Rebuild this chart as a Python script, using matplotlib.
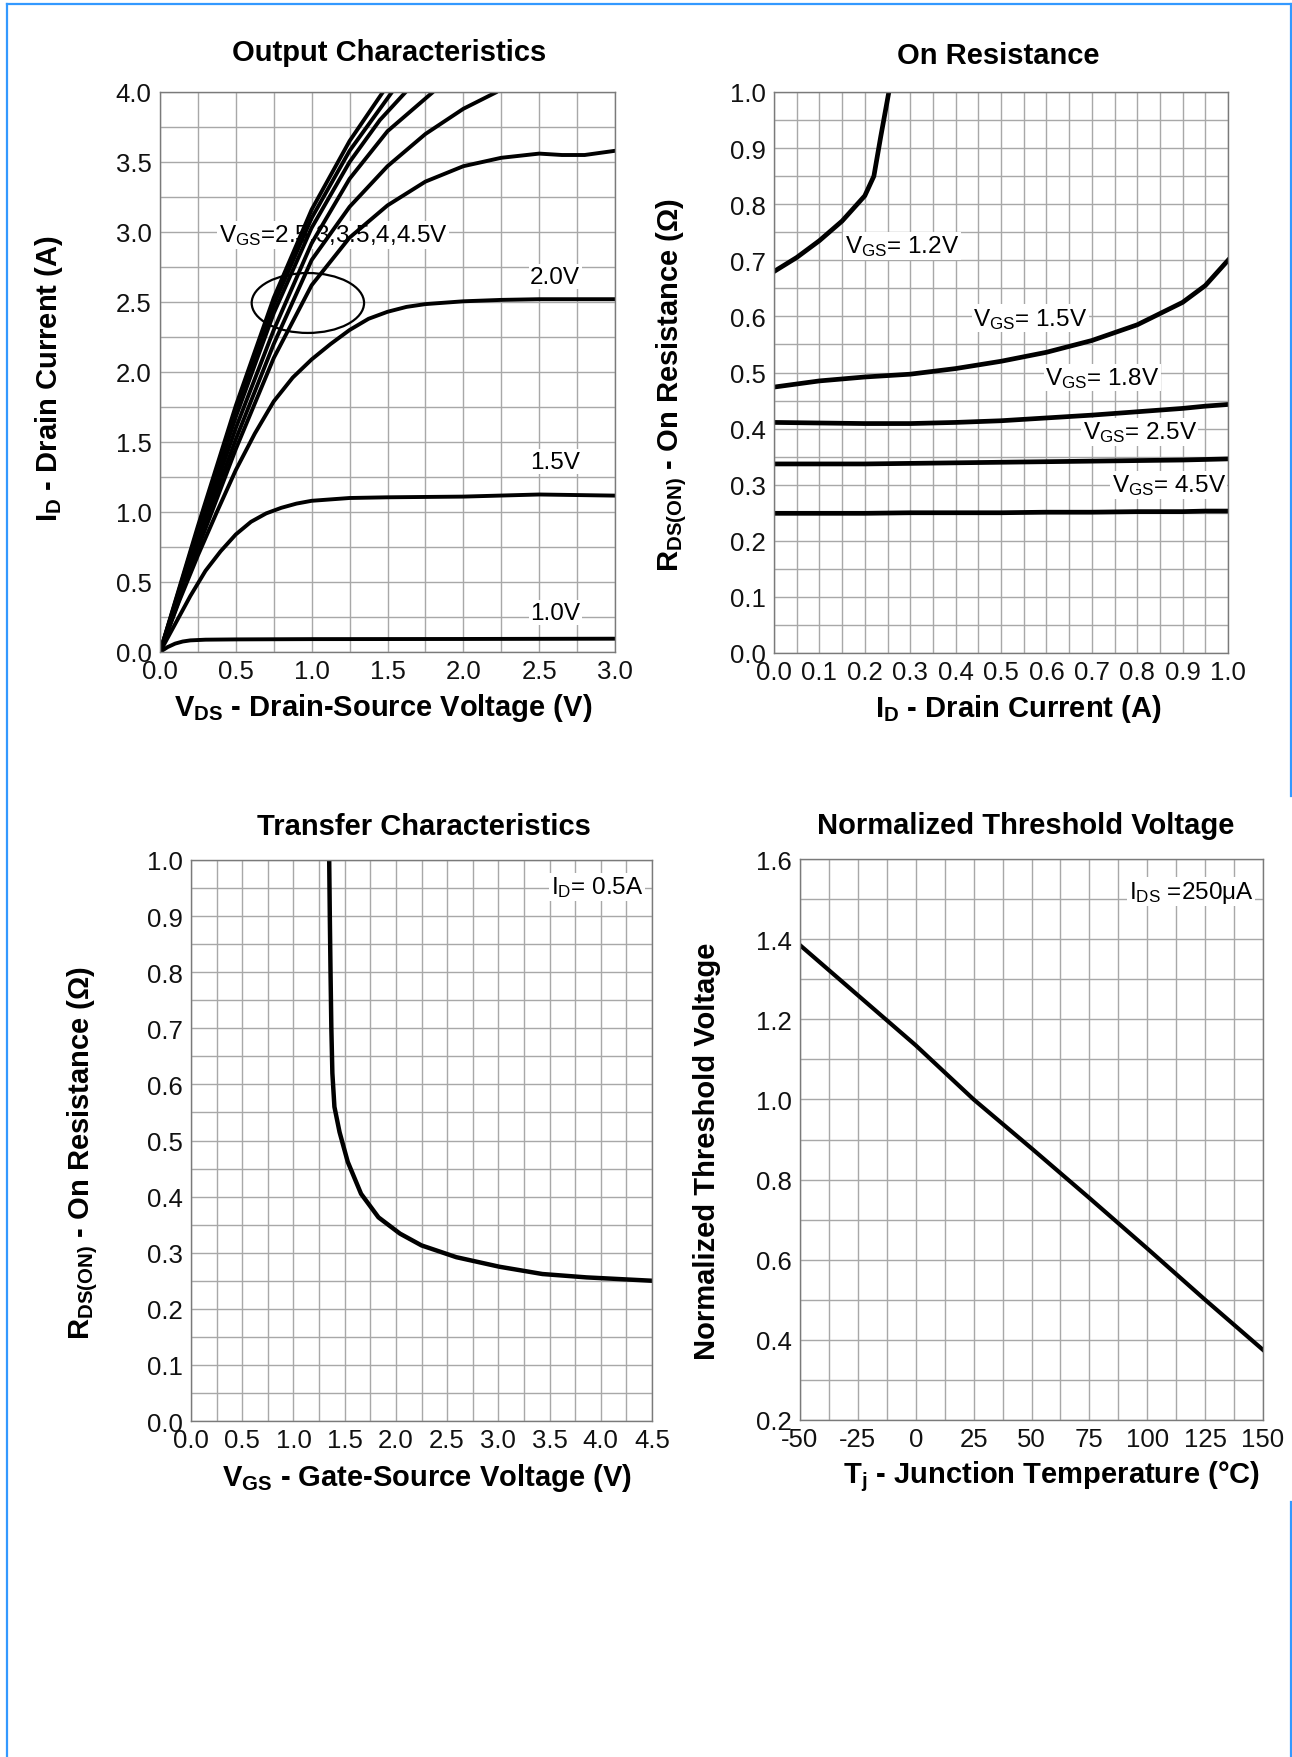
import numpy as np
import matplotlib.pyplot as plt
from matplotlib.patches import Ellipse
from matplotlib.lines import Line2D

plt.rcParams['font.family'] = ['Liberation Sans', 'DejaVu Sans']
plt.rcParams['mathtext.fontset'] = 'custom'
plt.rcParams['mathtext.rm'] = 'Liberation Sans'
plt.rcParams['mathtext.bf'] = 'Liberation Sans:bold'
plt.rcParams['mathtext.it'] = 'Liberation Sans:italic'

W, H = 1292, 1758

# --- Output characteristics (VDS in V, ID in A) ---
vds_10 = [0, 0.05, 0.1, 0.15, 0.2, 0.3, 0.5, 1.0, 2.0, 3.0]
id_10 = [0, 0.035, 0.06, 0.075, 0.083, 0.088, 0.09, 0.092, 0.093, 0.095]
vds_15 = [0, 0.1, 0.2, 0.3, 0.4, 0.5, 0.6, 0.7, 0.8, 0.9, 1.0, 1.25, 1.5, 2.0, 2.5, 3.0]
id_15 = [0, 0.2, 0.4, 0.58, 0.72, 0.84, 0.93, 0.99, 1.03, 1.06, 1.08, 1.1, 1.105, 1.11, 1.125, 1.117]
vds_20 = [0, 0.125, 0.25, 0.375, 0.5, 0.625, 0.75, 0.875, 1.0, 1.125, 1.25, 1.375, 1.5, 1.625, 1.75, 2.0, 2.25, 2.5, 3.0]
id_20 = [0, 0.36, 0.69, 1.0, 1.3, 1.56, 1.79, 1.96, 2.09, 2.2, 2.3, 2.38, 2.43, 2.465, 2.485, 2.505, 2.515, 2.52, 2.52]
vds_f = [0, 0.25, 0.5, 0.75, 1.0, 1.25, 1.5, 1.75, 2.0, 2.25, 2.5, 2.65, 2.8, 3.0]
id_f = [0, 0.74, 1.45, 2.1, 2.62, 2.96, 3.19, 3.36, 3.47, 3.53, 3.56, 3.55, 3.55, 3.58]
vds_e = [0, 0.25, 0.5, 0.75, 1.0, 1.25, 1.5, 1.75, 2.0, 2.22]
id_e = [0, 0.78, 1.52, 2.2, 2.8, 3.18, 3.47, 3.7, 3.88, 4.0]
vds_d = [0, 0.25, 0.5, 0.75, 1.0, 1.25, 1.5, 1.8]
id_d = [0, 0.82, 1.6, 2.3, 2.92, 3.38, 3.72, 4.0]
vds_c = [0, 0.25, 0.5, 0.75, 1.0, 1.25, 1.45, 1.62]
id_c = [0, 0.86, 1.68, 2.42, 3.03, 3.5, 3.8, 4.0]
vds_b = [0, 0.25, 0.5, 0.75, 1.0, 1.25, 1.53]
id_b = [0, 0.88, 1.72, 2.48, 3.1, 3.58, 4.0]
vds_a = [0, 0.25, 0.5, 0.75, 1.0, 1.25, 1.47]
id_a = [0, 0.9, 1.76, 2.53, 3.16, 3.65, 4.0]

# --- On resistance (ID in A, RDS in ohm) ---
id_r12 = [0, 0.05, 0.1, 0.15, 0.2, 0.22, 0.235, 0.253]
r_12 = [0.68, 0.705, 0.735, 0.77, 0.815, 0.85, 0.92, 1.0]
id_r = [0, 0.1, 0.2, 0.3, 0.4, 0.5, 0.6, 0.7, 0.8, 0.9, 0.95, 1.0]
r_15 = [0.474, 0.485, 0.492, 0.497, 0.507, 0.52, 0.536, 0.557, 0.585, 0.625, 0.655, 0.70]
r_18 = [0.411, 0.410, 0.409, 0.409, 0.411, 0.414, 0.419, 0.424, 0.43, 0.436, 0.44, 0.443]
r_25 = [0.337, 0.337, 0.337, 0.338, 0.339, 0.340, 0.341, 0.342, 0.343, 0.344, 0.345, 0.346]
r_45 = [0.249, 0.249, 0.249, 0.25, 0.25, 0.25, 0.251, 0.251, 0.252, 0.252, 0.253, 0.253]

# --- Transfer characteristics (VGS in V) ---
vgs = [1.349, 1.355, 1.362, 1.37, 1.38, 1.40, 1.45, 1.53, 1.66, 1.83, 2.04, 2.25, 2.59, 3.01, 3.43, 3.86, 4.5]
rds_vgs = [1.0, 0.9, 0.8, 0.7, 0.62, 0.56, 0.515, 0.462, 0.405, 0.363, 0.334, 0.313, 0.292, 0.275, 0.262, 0.256, 0.25]

# --- Normalized threshold voltage ---
tj = [-50, -25, 0, 25, 50, 75, 100, 125, 150]
vth = [1.385, 1.26, 1.135, 1.0, 0.878, 0.754, 0.628, 0.5, 0.375]

fig = plt.figure(figsize=(W / 100, H / 100), dpi=100)


def make_ax(l, t, r, b):
    return fig.add_axes([l / W, 1 - b / H, (r - l) / W, (b - t) / H])


def style(ax, xlim, ylim, xmaj, ymaj, xstep, ystep, xfmt, yfmt):
    ax.set_xlim(*xlim)
    ax.set_ylim(*ylim)
    ax.set_xticks(xmaj)
    ax.set_yticks(ymaj)
    ax.set_xticks(np.arange(xlim[0], xlim[1] + xstep / 2, xstep), minor=True)
    ax.set_yticks(np.arange(ylim[0], ylim[1] + ystep / 2, ystep), minor=True)
    ax.set_xticklabels([xfmt.format(v) for v in xmaj])
    ax.set_yticklabels([yfmt.format(v) for v in ymaj])
    ax.grid(True, which='both', color='#a8a8a8', lw=1.0)
    ax.set_axisbelow(True)
    ax.tick_params(which='both', length=0, labelsize=18.5, colors='#111111')
    ax.tick_params(axis='x', pad=5)
    ax.tick_params(axis='y', pad=6)
    for s in ax.spines.values():
        s.set_color('#7a7a7a')
        s.set_linewidth(1.0)


def title(ax, txt, x, y):
    ax.text(x, y, txt, transform=ax.transAxes, ha='center', va='center',
            fontsize=21, fontweight='bold')


def labels(ax, xl, yl, xpos, ypos):
    ax.set_xlabel(xl, fontsize=21, fontweight='bold', va='center')
    ax.set_ylabel(yl, fontsize=21, fontweight='bold', va='center')
    ax.xaxis.set_label_coords(*xpos)
    ax.yaxis.set_label_coords(*ypos)


box = dict(facecolor='white', edgecolor='none', pad=1)
fs_note = 17.5

# Output Characteristics
ax1 = make_ax(160, 93, 615, 653)
style(ax1, (0, 3), (0, 4), np.arange(0, 3.01, 0.5), np.arange(0, 4.01, 0.5),
      0.25, 0.25, '{:.1f}', '{:.1f}')
for xs, ys in [(vds_10, id_10), (vds_15, id_15), (vds_20, id_20), (vds_f, id_f),
               (vds_e, id_e), (vds_d, id_d), (vds_c, id_c), (vds_b, id_b), (vds_a, id_a)]:
    ax1.plot(xs, ys, color='black', lw=2.8, zorder=2, solid_capstyle='round')
ax1.add_patch(Ellipse((0.975, 2.493), 0.741, 0.428, fill=False, lw=1.6,
                      edgecolor='black', zorder=3))
ax1.text(0.386, 2.98, r'V$_{\mathrm{GS}}$=2.5,3,3.5,4,4.5V', fontsize=fs_note,
         ha='left', va='center', bbox=box, zorder=1.5)
ax1.text(2.44, 2.68, '2.0V', fontsize=fs_note, ha='left', va='center', bbox=box, zorder=1.5)
ax1.text(2.44, 1.36, '1.5V', fontsize=fs_note, ha='left', va='center', bbox=box, zorder=1.5)
ax1.text(2.44, 0.28, '1.0V', fontsize=fs_note, ha='left', va='center', bbox=box, zorder=1.5)
title(ax1, 'Output Characteristics', 0.503, 1.071)
labels(ax1, r'$\mathbf{V_{DS}}$ - Drain-Source Voltage (V)',
       r'$\mathbf{I_D}$ - Drain Current (A)', (0.49, -0.098), (-0.245, 0.49))

# On Resistance
ax2 = make_ax(774, 93, 1228, 654)
style(ax2, (0, 1), (0, 1), np.arange(0, 1.01, 0.1), np.arange(0, 1.01, 0.1),
      0.05, 0.05, '{:.1f}', '{:.1f}')
ax2.plot(id_r12, r_12, color='black', lw=3.4, zorder=2)
for rs in [r_15, r_18, r_25, r_45]:
    ax2.plot(id_r, rs, color='black', lw=3.4, zorder=2)
for x, y, v in [(0.156, 0.726, '1.2V'), (0.439, 0.597, '1.5V'), (0.598, 0.491, '1.8V'),
                (0.68, 0.394, '2.5V'), (0.744, 0.30, '4.5V')]:
    ax2.text(x, y, r'V$_{\mathrm{GS}}$= ' + v, fontsize=fs_note, ha='left', va='center',
             bbox=box, zorder=1.5)
title(ax2, 'On Resistance', 0.493, 1.066)
labels(ax2, r'$\mathbf{I_D}$ - Drain Current (A)',
       r'$\mathbf{R_{DS(ON)}}$ - On Resistance (Ω)', (0.537, -0.098), (-0.225, 0.48))

# Transfer Characteristics
ax3 = make_ax(191, 861, 652, 1422)
style(ax3, (0, 4.5), (0, 1), np.arange(0, 4.51, 0.5), np.arange(0, 1.01, 0.1),
      0.25, 0.05, '{:.1f}', '{:.1f}')
ax3.plot(vgs, rds_vgs, color='black', lw=3.2, zorder=2)
ax3.text(3.51, 0.952, r'I$_{\mathrm{D}}$= 0.5A', fontsize=fs_note, ha='left', va='center',
         bbox=box, zorder=1.5)
title(ax3, 'Transfer Characteristics', 0.505, 1.061)
labels(ax3, r'$\mathbf{V_{GS}}$ - Gate-Source Voltage (V)',
       r'$\mathbf{R_{DS(ON)}}$ - On Resistance (Ω)', (0.512, -0.1), (-0.235, 0.48))

# Normalized Threshold Voltage
ax4 = make_ax(800, 860, 1263, 1421)
style(ax4, (-50, 150), (0.2, 1.6), np.arange(-50, 151, 25), np.arange(0.2, 1.61, 0.2),
      12.5, 0.1, '{:.0f}', '{:.1f}')
ax4.plot(tj, vth, color='black', lw=3.0, zorder=2)
ax4.text(92, 1.518, r'I$_{\mathrm{DS}}$ =250μA', fontsize=fs_note, ha='left', va='center',
         bbox=box, zorder=1.5)
title(ax4, 'Normalized Threshold Voltage', 0.488, 1.061)
labels(ax4, r'$\mathbf{T_j}$ - Junction Temperature (°C)',
       'Normalized Threshold Voltage', (0.543, -0.1), (-0.2, 0.48))

# blue frame around the page
blue = '#3399ff'
for (x0, y0, x1, y1) in [(6.7, 4.7, 6.7, H), (6.7, 4.7, W, 4.7),
                         (1290.7, 4.7, 1290.7, 797), (1290.7, 1503, 1290.7, H)]:
    fig.add_artist(Line2D([x0 / W, x1 / W], [1 - y0 / H, 1 - y1 / H],
                          transform=fig.transFigure, color=blue, lw=1.6))

fig.savefig('out.png', dpi=100)
